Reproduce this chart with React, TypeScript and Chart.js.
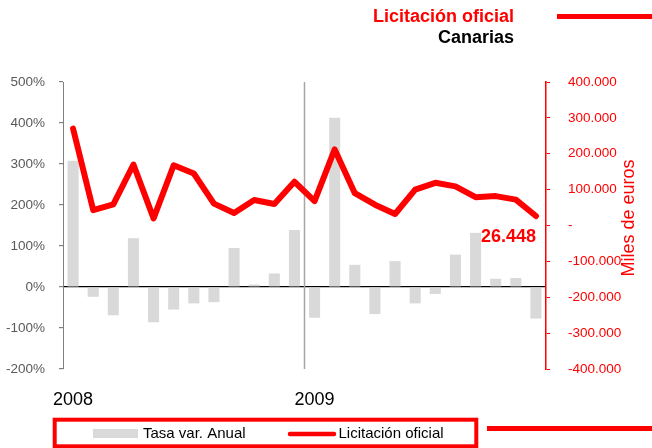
import React, { useEffect, useRef } from "react";
import { Chart, registerables } from "chart.js";

Chart.register(...registerables);

const months = [
  "ene-08", "feb-08", "mar-08", "abr-08", "may-08", "jun-08", "jul-08", "ago-08", "sep-08", "oct-08", "nov-08", "dic-08",
  "ene-09", "feb-09", "mar-09", "abr-09", "may-09", "jun-09", "jul-09", "ago-09", "sep-09", "oct-09", "nov-09", "dic-09",
];
const tasaVar = [308, -24, -69, 119, -86, -55, -40, -37, 95, 6, 33, 139, -75, 413, 54, -66, 63, -40, -17, 79, 132, 20, 22, -77];
const licitacion = [
  270000, 43000, 59000, 170000, 20000, 168000, 145000, 61000, 35000, 71000, 60000, 122000,
  68000, 212000, 90000, 58000, 32000, 100000, 119000, 109000, 79000, 82000, 72000, 26448,
];
const yearLabels = ["2008", "2009"];
const titleMain = "Licitación oficial";
const titleSub = "Canarias";
const rightAxisTitle = "Miles de euros";
const lastLabel = "26.448";
const legendBar = "Tasa var. Anual";
const legendLine = "Licitación oficial";

const FONT = "'Liberation Sans', Arial, sans-serif";
const RED = "#ff0000";
const BAR = "#d9d9d9";
const GRAY_TXT = "#595959";

const fmtThousands = (v: number) => {
  if (v === 0) return "-";
  const s = Math.abs(v).toString().replace(/\B(?=(\d{3})+(?!\d))/g, ".");
  return (v < 0 ? "-" : "") + s;
};

const overlay = {
  id: "overlay",
  beforeDatasetsDraw(chart: any) {
    const { ctx, chartArea, scales } = chart;
    const x = scales.x;
    const xm = (x.getPixelForValue(11) + x.getPixelForValue(12)) / 2;
    ctx.save();
    ctx.strokeStyle = "#a6a6a6";
    ctx.lineWidth = 1.5;
    ctx.beginPath();
    ctx.moveTo(xm, chartArea.top);
    ctx.lineTo(xm, chartArea.bottom);
    ctx.stroke();
    ctx.restore();
  },
  afterDraw(chart: any) {
    const { ctx, chartArea, scales } = chart;
    ctx.save();
    // Title
    ctx.textAlign = "right";
    ctx.textBaseline = "middle";
    ctx.font = `bold 18px ${FONT}`;
    ctx.fillStyle = RED;
    ctx.fillText(titleMain, 514, 17);
    ctx.fillStyle = "#000";
    ctx.fillText(titleSub, 514, 38);
    ctx.fillStyle = RED;
    ctx.fillRect(557, 14, 95, 5);

    // last value label
    const meta = chart.getDatasetMeta(0);
    const last = meta.data[meta.data.length - 1];
    ctx.font = `bold 18px ${FONT}`;
    ctx.fillStyle = RED;
    ctx.textAlign = "right";
    ctx.fillText(lastLabel, last.x, last.y + 21);

    // Right axis title
    ctx.save();
    ctx.translate(629, 218);
    ctx.rotate(-Math.PI / 2);
    ctx.textAlign = "center";
    ctx.textBaseline = "middle";
    ctx.font = `18px ${FONT}`;
    ctx.fillStyle = RED;
    ctx.fillText(rightAxisTitle, 0, 0);
    ctx.restore();

    // Year labels
    ctx.font = `18px ${FONT}`;
    ctx.fillStyle = "#000";
    ctx.textAlign = "left";
    ctx.textBaseline = "middle";
    const x = scales.x;
    const half = (x.getPixelForValue(1) - x.getPixelForValue(0)) / 2;
    ctx.fillText(yearLabels[0], x.getPixelForValue(0) - half - 10, 400);
    ctx.fillText(yearLabels[1], x.getPixelForValue(12) - half - 10, 400);

    // Legend box
    ctx.strokeStyle = RED;
    ctx.lineWidth = 4;
    ctx.strokeRect(54.7, 419.7, 421.6, 26.6);
    ctx.fillStyle = BAR;
    ctx.fillRect(93, 429, 45, 9);
    ctx.font = `15px ${FONT}`;
    ctx.fillStyle = "#000";
    ctx.fillText(legendBar, 143, 434);
    ctx.strokeStyle = RED;
    ctx.lineWidth = 4.5;
    ctx.lineCap = "round";
    ctx.beginPath();
    ctx.moveTo(290, 434);
    ctx.lineTo(334, 434);
    ctx.stroke();
    ctx.fillText(legendLine, 338.5, 434);
    ctx.fillStyle = RED;
    ctx.fillRect(487, 426, 165, 5);
    ctx.restore();
  },
};

export default function App() {
  const ref = useRef<HTMLCanvasElement | null>(null);
  useEffect(() => {
    if (!ref.current) return;
    const chart = new Chart(ref.current, {
      type: "bar",
      data: {
        labels: months,
        datasets: [
          {
            type: "line",
            label: legendLine,
            data: licitacion,
            yAxisID: "y1",
            borderColor: RED,
            backgroundColor: RED,
            borderWidth: 6,
            pointRadius: 0,
            tension: 0,
            borderJoinStyle: "round",
            borderCapStyle: "round",
            order: 0,
          } as any,
          {
            type: "bar",
            label: legendBar,
            data: tasaVar,
            yAxisID: "y",
            backgroundColor: BAR,
            borderWidth: 0,
            categoryPercentage: 1,
            barPercentage: 0.55,
            order: 1,
          } as any,
        ],
      },
      options: {
        responsive: false,
        animation: false,
        layout: { padding: { top: 82, bottom: 79, left: 0, right: 0 } },
        plugins: { legend: { display: false }, tooltip: { enabled: false } },
        scales: {
          x: { type: "category", display: false, offset: true },
          y: {
            position: "left",
            min: -200,
            max: 500,
            afterFit: (s: any) => {
              s.width = 63;
            },
            ticks: {
              stepSize: 100,
              padding: 14,
              color: GRAY_TXT,
              font: { family: FONT, size: 13.5 },
              callback: (v: any) => `${v}%`,
            },
            grid: {
              drawOnChartArea: true,
              color: (c: any) => (c.tick && c.tick.value === 0 ? "#000" : "rgba(0,0,0,0)"),
              lineWidth: 1.2,
              tickColor: "#808080",
              tickLength: 4,
            },
            border: { color: "#808080", width: 1 },
          },
          y1: {
            position: "right",
            min: -400000,
            max: 400000,
            afterFit: (s: any) => {
              s.width = 106;
            },
            ticks: {
              stepSize: 100000,
              padding: 18,
              color: RED,
              font: { family: FONT, size: 13.5 },
              callback: (v: any) => fmtThousands(Number(v)),
            },
            grid: { drawOnChartArea: false, tickColor: RED, tickLength: 4 },
            border: { color: RED, width: 1.5 },
          },
        },
      } as any,
      plugins: [overlay],
    });
    return () => chart.destroy();
  }, []);
  return (
    <div style={{ position: "absolute", left: 0, top: 0, width: 652, height: 448, background: "#fff" }}>
      <canvas ref={ref} width={652} height={448} style={{ width: 652, height: 448, display: "block" }} />
    </div>
  );
}
